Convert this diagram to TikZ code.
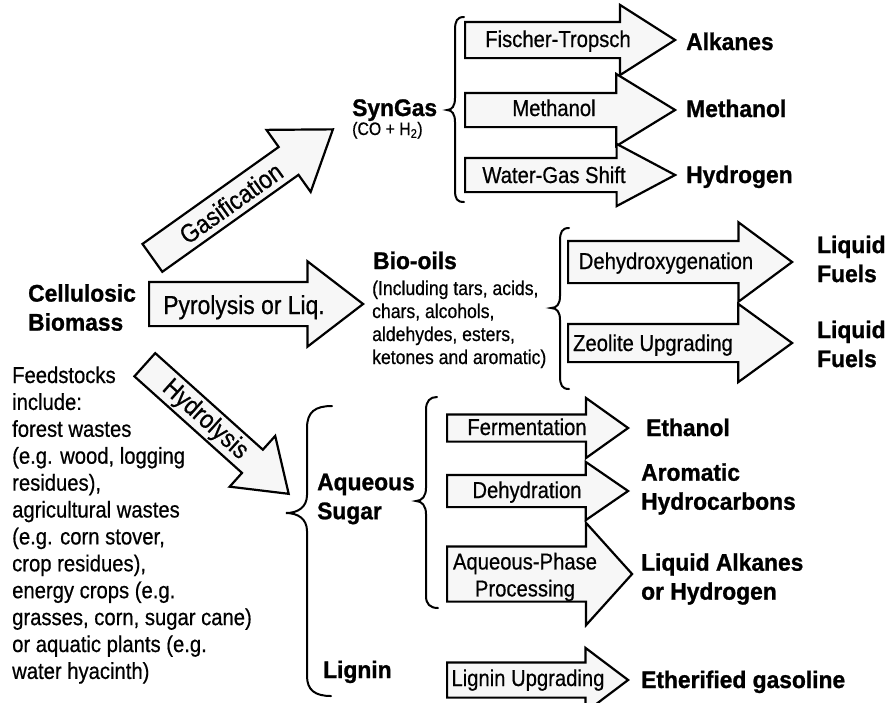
\documentclass[tikz,border=0pt]{standalone}
\usepackage{fontspec}
\setmainfont{Liberation Sans}[FakeStretch=0.88, FakeBold=0.6]
\newfontfamily\headfont{Liberation Sans}[FakeStretch=0.95, FakeBold=1]
\usetikzlibrary{shapes.arrows}

\begin{document}
\begin{tikzpicture}[x=1pt,y=-1pt]
\tikzset{blockarr/.style={single arrow, draw=black, line width=2.2pt, fill=gray!6, inner xsep=0pt, minimum width=0pt, anchor=tail}}
\tikzset{arrgeom/.style n args={4}{minimum height=#1, inner ysep=#2, single arrow head extend=#3, single arrow tip angle=#4}}
\tikzset{steptext/.style={font=\fontsize{23}{27}\selectfont, inner sep=0pt, anchor=base}}
\tikzset{bigstep/.style={font=\fontsize{26}{30}\selectfont, inner sep=0pt}}
\tikzset{product/.style={font=\headfont\bfseries\fontsize{24}{29}\selectfont, inner sep=0pt}}
\tikzset{note/.style={font=\fontsize{20}{23}\selectfont, inner sep=0pt, anchor=base west}}
\tikzset{bracket/.style={line width=2pt, line cap=round}}

\useasboundingbox (0,0) rectangle (888,702);

% the three main routes
\node[blockarr, arrgeom={221.6}{16}{21}{70}, rotate=35.45] (gas) at (151.5,258.5) {};
\node[bigstep, rotate=35.45] (gaslbl) at (231,203) {Gasification};
\node[blockarr, arrgeom={214}{21}{20.5}{75}] (pyro) at (148,304) {};
\node[bigstep, anchor=base] (pyrolbl) at (244,314) {Pyrolysis or Liq.};
\node[blockarr, arrgeom={193.3}{14.5}{18.5}{70}, rotate=-41.9] (hyd) at (144,364) {};
\node[bigstep, rotate=-41.9] (hydlbl) at (205,420) {Hydrolysis};

\node[product, anchor=west, align=left] (biomass) at (28,307.5) {Cellulosic\\Biomass};
\foreach \ln [count=\i from 0] in {Feedstocks, include:, forest wastes, {(e.g. wood, logging}, {residues),}, agricultural wastes, {(e.g. corn stover,}, {crop residues),}, {energy crops (e.g.}, {grasses, corn, sugar cane)}, {or aquatic plants (e.g.}, {water hyacinth)}}
  \node[anchor=base west, inner sep=0pt, font=\fontsize{23}{27}\selectfont] (feed\i) at (12,{383+26.9*\i}) {\ln};

% syngas
\node[product, anchor=base west] (syngas) at (352,116) {SynGas};
\node[anchor=base west, inner sep=0pt, font=\fontsize{18}{20}\selectfont] (co) at (352,135) {(CO + H\textsubscript{2})};
\draw[bracket] (464,17) .. controls (457,17) and (455,21) .. (455,30) -- (455,98) .. controls (455,106) and (452,110) .. (447,110) .. controls (452,110) and (455,114) .. (455,122) -- (455,190) .. controls (455,199) and (457,202) .. (464,202);
\node[blockarr, arrgeom={210}{17}{17}{65}] (ft) at (464,40) {};
\node[steptext] (ftlbl) at (558,47) {Fischer-Tropsch};
\node[blockarr, arrgeom={210}{16}{19}{63}] (meth) at (464,110) {};
\node[steptext] (methlbl) at (554,116) {Methanol};
\node[blockarr, arrgeom={210}{16}{14}{56}] (wgs) at (464,175) {};
\node[steptext] (wgslbl) at (554,183) {Water-Gas Shift};
\node[product, anchor=base west] (alk) at (686,50) {Alkanes};
\node[product, anchor=base west] (meoh) at (686,117) {Methanol};
\node[product, anchor=base west] (hyd2) at (686,183) {Hydrogen};

% bio-oils
\node[product, anchor=base west] (biooil) at (373,269) {Bio-oils};
\foreach \ln [count=\i from 0] in {{(Including tars, acids,}, {chars, alcohols,}, {aldehydes, esters,}, {ketones and aromatic)}}
  \node[note] (oil\i) at (372,{295+23*\i}) {\ln};
\draw[bracket] (569,228) .. controls (562,228) and (560,232) .. (560,241) -- (560,296) .. controls (560,304) and (557,308) .. (551,308) .. controls (557,308) and (560,312) .. (560,320) -- (560,376) .. controls (560,385) and (562,389) .. (569,389);
\node[blockarr, arrgeom={224}{20}{18.5}{73}] (dhx) at (567,262) {};
\node[steptext] (dhxlbl) at (666,269) {Dehydroxygenation};
\node[blockarr, arrgeom={224}{18}{20}{72}] (zeo) at (567,343) {};
\node[steptext] (zeolbl) at (653,351) {Zeolite Upgrading};
\node[product, anchor=west, align=left] (fuel1) at (817,259) {Liquid\\Fuels};
\node[product, anchor=west, align=left] (fuel2) at (817,344) {Liquid\\Fuels};

% sugars and lignin
\draw[bracket] (332,406) .. controls (315,406) and (307,412) .. (307,428) -- (307,495) .. controls (307,507) and (298,513) .. (286,513) .. controls (298,513) and (307,519) .. (307,531) -- (307,676) .. controls (307,690) and (315,696) .. (331,696);
\node[product, anchor=west, align=left] (sugar) at (317,499) {Aqueous\\Sugar};
\node[product, anchor=base west] (lignin) at (323,678) {Lignin};
\draw[bracket] (437,397) .. controls (430,397) and (426,401) .. (426,410) -- (426,488) .. controls (426,496) and (422,501) .. (416,501) .. controls (422,501) and (426,506) .. (426,514) -- (426,596) .. controls (426,604) and (430,608) .. (438,608);
\node[blockarr, arrgeom={181}{12.5}{16.5}{71}] (ferm) at (446,428) {};
\node[steptext] (fermlbl) at (527,435) {Fermentation};
\node[blockarr, arrgeom={181}{15}{13}{69}] (dehy) at (446,491) {};
\node[steptext] (dehylbl) at (527,498) {Dehydration};
\node[blockarr, arrgeom={185}{26.5}{23.5}{96}] (app) at (446,574) {};
\node[steptext, anchor=center, align=center] (applbl) at (525,577) {Aqueous-Phase\\Processing};
\node[blockarr, arrgeom={181}{16.5}{14.5}{74}] (lig) at (446,680) {};
\node[steptext] (liglbl) at (528,686) {Lignin Upgrading};
\node[product, anchor=base west] (etoh) at (646,436) {Ethanol};
\node[product, anchor=west, align=left] (arom) at (641,489) {Aromatic\\Hydrocarbons};
\node[product, anchor=west, align=left] (lalk) at (641,579) {Liquid Alkanes\\or Hydrogen};
\node[product, anchor=base west] (gasoline) at (641,688) {Etherified gasoline};

\end{tikzpicture}
\end{document}
